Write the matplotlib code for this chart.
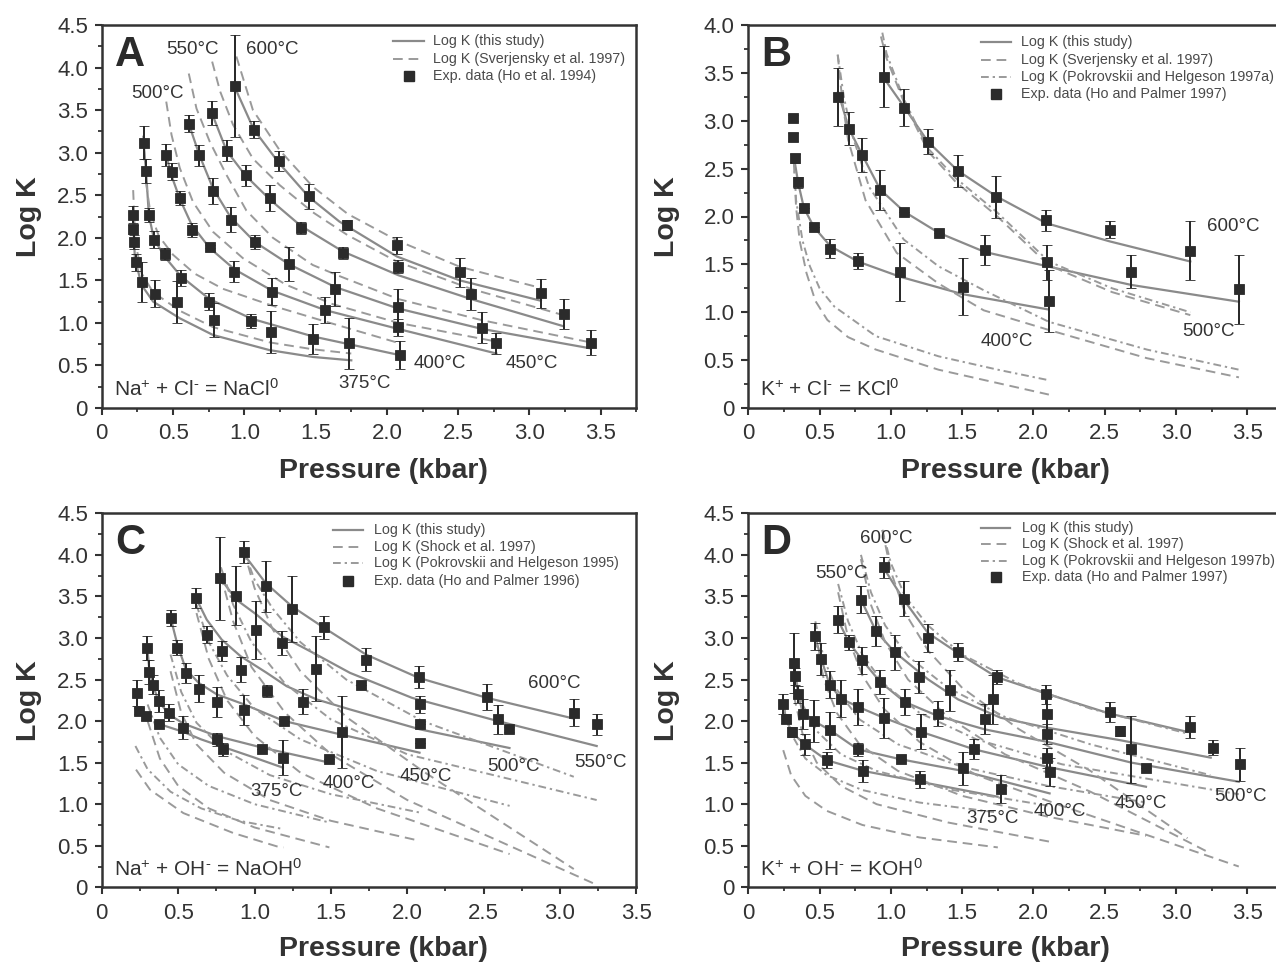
import numpy as np
import matplotlib
matplotlib.use("Agg")
import matplotlib.pyplot as plt
from matplotlib.lines import Line2D
from matplotlib.ticker import MultipleLocator, FuncFormatter

plt.rcParams['font.family'] = ['Liberation Sans', 'DejaVu Sans']
plt.rcParams['mathtext.fontset'] = 'custom'
plt.rcParams['mathtext.rm'] = 'Liberation Sans'
plt.rcParams['mathtext.it'] = 'Liberation Sans:italic'

# ---------------- Panel A: Na+ + Cl- = NaCl0 ----------------
A_TEMPS = [375, 400, 450, 500, 550, 600]
A_FIT_P = [[0.218, 0.232, 0.279, 0.36, 0.547, 0.78, 1.177, 1.48, 1.75],
           [0.293, 0.31, 0.33, 0.365, 0.44, 0.554, 0.755, 1.049, 1.483, 2.094],
           [0.452, 0.491, 0.549, 0.631, 0.757, 0.93, 1.193, 1.567, 2.077, 2.768],
           [0.61, 0.685, 0.78, 0.904, 1.074, 1.312, 1.639, 2.077, 2.665, 3.43],
           [0.773, 0.876, 1.009, 1.179, 1.396, 1.69, 2.08, 2.59, 3.24],
           [0.93, 1.067, 1.242, 1.452, 1.667, 2.07, 2.51, 3.08]]
A_FIT_K = [[2.27, 1.76, 1.445, 1.25, 1.054, 0.858, 0.68, 0.60, 0.56],
           [3.12, 2.79, 2.27, 1.99, 1.78, 1.55, 1.28, 1.05, 0.84, 0.62],
           [2.97, 2.72, 2.45, 2.15, 1.88, 1.63, 1.38, 1.15, 0.93, 0.64],
           [3.34, 2.97, 2.58, 2.24, 1.95, 1.69, 1.42, 1.17, 0.93, 0.70],
           [3.46, 3.02, 2.73, 2.45, 2.14, 1.84, 1.56, 1.28, 0.96],
           [3.78, 3.27, 2.88, 2.48, 2.19, 1.78, 1.50, 1.26]]
A_SV_P = [[0.22, 0.235, 0.28, 0.36, 0.55, 0.78, 1.18, 1.48, 1.75],
          [0.29, 0.31, 0.34, 0.40, 0.50, 0.65, 0.85, 1.2, 1.6, 2.09],
          [0.452, 0.489, 0.547, 0.64, 0.78, 0.99, 1.29, 1.62, 2.08, 2.77],
          [0.61, 0.664, 0.757, 0.874, 1.014, 1.2, 1.48, 1.667, 2.08, 2.67, 3.43],
          [0.774, 0.83, 0.92, 1.06, 1.247, 1.48, 1.725, 2.07, 2.59, 3.24],
          [0.944, 1.06, 1.247, 1.48, 1.725, 2.07, 2.51, 3.08]]
A_SV_K = [[2.56, 1.95, 1.58, 1.36, 1.14, 0.95, 0.77, 0.69, 0.64],
          [3.2, 2.65, 2.3, 2.02, 1.80, 1.58, 1.40, 1.20, 1.00, 0.76],
          [3.60, 3.21, 2.82, 2.42, 2.07, 1.76, 1.45, 1.22, 1.00, 0.78],
          [3.93, 3.52, 3.13, 2.74, 2.32, 2.0, 1.68, 1.55, 1.28, 1.03, 0.77],
          [4.07, 3.72, 3.33, 2.93, 2.62, 2.30, 2.03, 1.72, 1.40, 1.09],
          [4.13, 3.50, 3.03, 2.60, 2.28, 1.97, 1.66, 1.41]]
A_EXP_P = [0.932, 0.773, 0.610, 1.067, 0.876, 0.293, 0.452, 0.685, 1.242, 0.309,
           0.491, 1.009, 0.780, 1.179, 1.452, 0.549, 0.218, 0.330, 0.218, 0.904,
           0.631, 0.365, 0.223, 1.074, 1.396, 1.718, 0.757, 0.440, 0.242, 1.690,
           1.312, 0.930, 0.554, 0.284, 1.639, 1.193, 0.375, 0.526, 0.755, 1.567,
           0.788, 1.049, 1.184, 1.483, 1.737, 2.071, 2.080, 2.077, 2.077, 2.094,
           2.514, 2.588, 2.665, 2.768, 3.078, 3.241, 3.430]
A_EXP_K = [3.784, 3.463, 3.337, 3.267, 3.024, 3.118, 2.969, 2.969, 2.902, 2.789,
           2.777, 2.734, 2.550, 2.468, 2.487, 2.468, 2.268, 2.268, 2.099, 2.213,
           2.095, 1.978, 1.951, 1.951, 2.119, 2.150, 1.896, 1.814, 1.712, 1.825,
           1.688, 1.602, 1.528, 1.481, 1.394, 1.367, 1.343, 1.246, 1.246, 1.152,
           1.038, 1.022, 0.893, 0.811, 0.760, 1.915, 1.661, 1.183, 0.948, 0.623,
           1.594, 1.343, 0.944, 0.760, 1.348, 1.105, 0.768]
A_EXP_ERR = [0.60, 0.14, 0.10, 0.10, 0.12, 0.19, 0.13, 0.12, 0.12, 0.14,
             0.10, 0.12, 0.15, 0.15, 0.15, 0.08, 0.10, 0.08, 0.05, 0.15,
             0.08, 0.10, 0.08, 0.08, 0.07, 0.06, 0.02, 0.07, 0.10, 0.07,
             0.20, 0.12, 0.09, 0.23, 0.20, 0.16, 0.16, 0.25, 0.10, 0.15,
             0.20, 0.08, 0.25, 0.18, 0.30, 0.10, 0.08, 0.22, 0.10, 0.16,
             0.17, 0.19, 0.18, 0.12, 0.17, 0.18, 0.15]

# ---------------- Panel B: K+ + Cl- = KCl0 ----------------
B_TEMPS = [400, 500, 600]
B_FIT_P = [[0.32, 0.35, 0.39, 0.46, 0.576, 0.768, 1.066, 1.5, 2.1],
           [0.63, 0.705, 0.80, 0.926, 1.094, 1.335, 1.658, 2.108, 2.687, 3.441],
           [0.944, 1.09, 1.261, 1.468, 1.74, 2.09, 2.535, 3.10]]
B_FIT_K = [[2.62, 2.35, 2.09, 1.89, 1.69, 1.53, 1.37, 1.19, 1.03],
           [3.3, 2.92, 2.64, 2.28, 2.05, 1.83, 1.63, 1.476, 1.285, 1.11],
           [3.46, 3.15, 2.78, 2.48, 2.21, 1.93, 1.74, 1.53]]
B_SV_P = [[0.32, 0.335, 0.36, 0.408, 0.47, 0.554, 0.70, 0.895, 1.334, 1.75, 2.108],
          [0.627, 0.66, 0.70, 0.822, 1.041, 1.334, 1.651, 2.108, 2.796, 3.441],
          [0.93, 0.97, 1.09, 1.261, 1.455, 1.74, 2.108, 2.552, 3.10]]
B_SV_K = [[2.55, 2.10, 1.75, 1.41, 1.12, 0.92, 0.74, 0.61, 0.40, 0.26, 0.14],
          [3.69, 3.2, 2.80, 2.17, 1.62, 1.30, 1.02, 0.815, 0.52, 0.32],
          [3.88, 3.65, 3.20, 2.68, 2.36, 2.01, 1.49, 1.21, 0.97]]
B_PH_P = [[0.32, 0.335, 0.38, 0.432, 0.50, 0.603, 0.895, 1.334, 1.75, 2.108],
          [0.627, 0.67, 0.725, 0.847, 1.09, 1.334, 1.651, 2.108, 2.796, 3.441],
          [0.94, 0.97, 1.09, 1.261, 1.455, 1.74, 2.108, 2.552, 3.10]]
B_PH_K = [[2.6, 2.17, 1.75, 1.48, 1.25, 1.06, 0.75, 0.54, 0.40, 0.29],
          [3.69, 3.25, 2.87, 2.31, 1.76, 1.48, 1.23, 0.90, 0.61, 0.40],
          [3.92, 3.70, 3.23, 2.71, 2.40, 2.05, 1.53, 1.25, 1.00]]
B_EXP_P = [0.315, 0.315, 0.329, 0.350, 0.388, 0.460, 0.576, 0.768, 1.066, 1.505,
           0.628, 0.705, 0.800, 0.926, 1.094, 1.335, 1.659, 0.950, 1.090, 1.262,
           1.470, 1.740, 2.090, 2.097, 2.108, 2.535, 2.687, 3.100, 3.441]
B_EXP_K = [3.025, 2.827, 2.607, 2.357, 2.092, 1.887, 1.664, 1.535, 1.420, 1.267,
           3.248, 2.917, 2.642, 2.277, 2.044, 1.824, 1.650, 3.460, 3.137, 2.780,
           2.475, 2.207, 1.963, 1.520, 1.117, 1.862, 1.424, 1.643, 1.240]
B_EXP_ERR = [0.03, 0.04, 0.05, 0.06, 0.0, 0.0, 0.10, 0.08, 0.30, 0.30,
             0.30, 0.17, 0.18, 0.21, 0.0, 0.0, 0.16, 0.32, 0.19, 0.13,
             0.17, 0.22, 0.11, 0.18, 0.32, 0.09, 0.17, 0.31, 0.36]

# ---------------- Panel C: Na+ + OH- = NaOH0 ----------------
C_TEMPS = [375, 400, 450, 500, 550, 600]
C_FIT_P = [[0.367, 0.45, 0.534, 0.65, 0.792, 1.0, 1.185],
           [0.298, 0.311, 0.333, 0.372, 0.44, 0.534, 0.752, 1.051, 1.49],
           [0.451, 0.495, 0.551, 0.634, 0.754, 0.933, 1.195, 1.516, 2.08],
           [0.617, 0.687, 0.785, 0.909, 1.08, 1.21, 1.407, 1.625, 2.084, 2.669],
           [0.775, 0.881, 1.014, 1.18, 1.385, 1.625, 2.03, 2.593, 3.24],
           [0.933, 1.073, 1.245, 1.457, 1.73, 2.075, 2.52, 3.09]]
C_FIT_K = [[1.97, 1.92, 1.87, 1.78, 1.69, 1.56, 1.44],
           [2.88, 2.62, 2.44, 2.24, 2.08, 1.97, 1.82, 1.68, 1.50],
           [3.24, 2.92, 2.62, 2.46, 2.32, 2.20, 2.00, 1.86, 1.62],
           [3.48, 3.22, 2.98, 2.78, 2.58, 2.42, 2.26, 2.14, 1.90, 1.676],
           [3.72, 3.46, 3.28, 3.02, 2.82, 2.58, 2.28, 2.0, 1.70],
           [4.0, 3.66, 3.38, 3.12, 2.80, 2.52, 2.28, 2.03]]
C_SH_P = [[0.224, 0.316, 0.534, 0.861, 1.145, 1.19],
          [0.3, 0.38, 0.5, 0.7, 1.0, 1.49],
          [0.45, 0.52, 0.62, 0.8, 1.1, 1.5, 2.08],
          [0.62, 0.7, 0.82, 1.0, 1.3, 1.8, 2.67],
          [0.78, 0.86, 0.98, 1.2, 1.5, 2.0, 3.24],
          [0.93, 1.0, 1.12, 1.3, 1.6, 2.1, 3.09]]
C_SH_K = [[1.416, 1.174, 0.893, 0.653, 0.493, 0.48],
          [2.0, 1.55, 1.22, 0.95, 0.72, 0.48],
          [2.6, 2.1, 1.72, 1.38, 1.05, 0.80, 0.56],
          [3.3, 2.75, 2.25, 1.82, 1.38, 0.95, 0.40],
          [3.75, 3.2, 2.65, 2.1, 1.6, 1.05, 0.03],
          [4.05, 3.6, 3.1, 2.6, 2.05, 1.4, 0.22]]
C_PH_P = [[0.22, 0.3, 0.45, 0.65, 0.9, 1.19],
          [0.3, 0.38, 0.5, 0.7, 1.0, 1.49],
          [0.45, 0.52, 0.62, 0.8, 1.1, 1.5, 2.08],
          [0.62, 0.7, 0.82, 1.0, 1.3, 1.8, 2.67],
          [0.78, 0.86, 0.98, 1.2, 1.5, 2.0, 3.24],
          [0.93, 1.0, 1.12, 1.3, 1.6, 2.1, 3.09]]
C_PH_K = [[1.7, 1.42, 1.15, 0.95, 0.80, 0.70],
          [2.2, 1.80, 1.48, 1.22, 1.0, 0.78],
          [2.8, 2.35, 1.98, 1.65, 1.35, 1.12, 0.90],
          [3.4, 2.95, 2.55, 2.15, 1.78, 1.40, 0.98],
          [3.85, 3.4, 2.95, 2.45, 2.02, 1.60, 1.05],
          [4.05, 3.7, 3.35, 2.95, 2.5, 2.0, 1.33]]
C_EXP_P = [0.933, 0.775, 0.617, 0.881, 1.073, 1.245, 0.451, 0.687, 1.012, 1.180,
           1.457, 0.298, 0.495, 0.785, 0.311, 0.551, 0.909, 1.405, 0.333, 0.634,
           1.080, 0.233, 0.372, 0.754, 1.315, 0.244, 0.287, 0.440, 0.933, 0.372,
           0.534, 1.195, 1.571, 0.752, 0.792, 1.051, 1.185, 1.486, 1.730, 1.698,
           2.075, 2.084, 2.084, 2.084, 2.520, 2.593, 2.669, 3.090, 3.240]
C_EXP_K = [4.035, 3.720, 3.480, 3.510, 3.620, 3.350, 3.240, 3.040, 3.100, 2.940,
           3.130, 2.880, 2.880, 2.840, 2.590, 2.580, 2.620, 2.630, 2.440, 2.390,
           2.360, 2.340, 2.240, 2.230, 2.230, 2.120, 2.060, 2.100, 2.130, 1.970,
           1.920, 2.000, 1.870, 1.780, 1.660, 1.670, 1.560, 1.540, 2.740, 2.430,
           2.530, 2.200, 1.960, 1.740, 2.290, 2.020, 1.900, 2.100, 1.960]
C_EXP_ERR = [0.13, 0.50, 0.12, 0.35, 0.31, 0.40, 0.10, 0.10, 0.35, 0.14,
             0.14, 0.14, 0.09, 0.12, 0.14, 0.12, 0.15, 0.39, 0.12, 0.16,
             0.07, 0.16, 0.13, 0.18, 0.15, 0.04, 0.05, 0.10, 0.18, 0.0,
             0.14, 0.0, 0.43, 0.08, 0.08, 0.0, 0.21, 0.0, 0.14, 0.0,
             0.13, 0.10, 0.0, 0.0, 0.16, 0.17, 0.03, 0.16, 0.13]

# ---------------- Panel D: K+ + OH- = KOH0 ----------------
D_TEMPS = [375, 400, 450, 500, 550, 600]
D_FIT_P = [[0.245, 0.264, 0.303, 0.395, 0.549, 0.807, 1.204, 1.748],
           [0.32, 0.331, 0.35, 0.383, 0.46, 0.574, 0.768, 1.069, 1.505, 2.113],
           [0.469, 0.511, 0.57, 0.651, 0.772, 0.95, 1.213, 1.584, 2.097, 2.789],
           [0.628, 0.705, 0.80, 0.926, 1.097, 1.332, 1.659, 2.097, 2.687, 3.44],
           [0.791, 0.896, 1.027, 1.262, 1.472, 1.77, 2.097, 2.608, 3.243],
           [0.95, 1.09, 1.26, 1.47, 1.74, 2.09, 2.535, 3.08]]
D_FIT_K = [[2.21, 2.03, 1.87, 1.72, 1.53, 1.40, 1.27, 1.09],
           [2.70, 2.54, 2.32, 2.09, 2.0, 1.89, 1.66, 1.54, 1.40, 1.13],
           [3.02, 2.75, 2.44, 2.27, 2.17, 2.04, 1.87, 1.66, 1.45, 1.21],
           [3.22, 2.95, 2.73, 2.47, 2.23, 2.06, 1.90, 1.75, 1.50, 1.27],
           [3.46, 3.08, 2.83, 2.50, 2.26, 2.04, 1.92, 1.77, 1.56],
           [3.84, 3.46, 3.06, 2.82, 2.53, 2.33, 2.09, 1.87]]
D_SH_P = [[0.245, 0.3, 0.4, 0.55, 0.8, 1.2, 1.75],
          [0.32, 0.38, 0.48, 0.65, 0.9, 1.4, 2.11],
          [0.47, 0.53, 0.62, 0.78, 1.05, 1.5, 2.1, 2.79],
          [0.63, 0.7, 0.8, 0.95, 1.2, 1.6, 2.2, 3.44],
          [0.79, 0.86, 0.96, 1.12, 1.4, 1.8, 2.4, 3.24],
          [0.94, 1.0, 1.1, 1.26, 1.5, 1.9, 2.4, 3.08]]
D_SH_K = [[1.65, 1.35, 1.10, 0.92, 0.75, 0.60, 0.48],
          [2.3, 1.85, 1.50, 1.22, 1.00, 0.78, 0.55],
          [3.0, 2.5, 2.10, 1.72, 1.40, 1.10, 0.85, 0.62],
          [3.55, 3.0, 2.55, 2.15, 1.75, 1.35, 0.98, 0.25],
          [3.95, 3.4, 2.95, 2.5, 2.05, 1.6, 1.15, 0.41],
          [4.3, 3.8, 3.3, 2.85, 2.4, 1.9, 1.4, 0.59]]
D_PH_P = [[0.245, 0.3, 0.4, 0.55, 0.8, 1.2, 1.75],
          [0.32, 0.38, 0.48, 0.65, 0.9, 1.4, 2.11],
          [0.47, 0.53, 0.62, 0.78, 1.05, 1.5, 2.1, 2.79],
          [0.63, 0.7, 0.8, 0.95, 1.2, 1.6, 2.2, 3.44],
          [0.79, 0.86, 0.96, 1.12, 1.4, 1.8, 2.4, 3.24],
          [0.94, 1.0, 1.1, 1.26, 1.5, 1.9, 2.4, 3.08]]
D_PH_K = [[2.2, 1.85, 1.55, 1.35, 1.17, 1.02, 0.90],
          [2.6, 2.2, 1.88, 1.60, 1.40, 1.18, 0.98],
          [3.2, 2.75, 2.38, 2.02, 1.72, 1.45, 1.22, 1.02],
          [3.65, 3.2, 2.8, 2.45, 2.1, 1.78, 1.48, 1.12],
          [4.0, 3.55, 3.15, 2.78, 2.4, 2.05, 1.72, 1.35],
          [4.3, 3.9, 3.5, 3.15, 2.8, 2.45, 2.15, 1.85]]
D_EXP_P = [0.950, 0.791, 1.090, 0.628, 0.896, 0.469, 1.262, 0.705, 1.027, 1.472,
           0.511, 0.800, 0.320, 1.199, 0.926, 0.570, 0.331, 1.418, 0.651, 0.350,
           1.097, 0.772, 0.245, 0.383, 1.332, 0.950, 1.659, 0.264, 0.460, 0.303,
           0.574, 1.213, 0.395, 1.584, 0.768, 1.069, 0.549, 1.505, 0.807, 1.204,
           1.773, 1.741, 1.716, 2.090, 2.097, 2.097, 2.097, 2.113, 2.535, 2.608,
           2.687, 2.789, 3.100, 3.259, 3.447]
D_EXP_K = [3.85, 3.46, 3.47, 3.22, 3.08, 3.02, 3.00, 2.95, 2.83, 2.83,
           2.75, 2.73, 2.70, 2.53, 2.47, 2.44, 2.54, 2.37, 2.27, 2.32,
           2.23, 2.17, 2.21, 2.09, 2.09, 2.04, 2.03, 2.03, 2.00, 1.87,
           1.89, 1.87, 1.72, 1.66, 1.66, 1.54, 1.53, 1.43, 1.40, 1.30,
           1.18, 2.53, 2.26, 2.32, 2.09, 1.85, 1.56, 1.39, 2.11, 1.88,
           1.66, 1.44, 1.93, 1.68, 1.48]
D_EXP_ERR = [0.13, 0.16, 0.21, 0.16, 0.18, 0.16, 0.17, 0.09, 0.21, 0.11,
             0.19, 0.16, 0.36, 0.19, 0.15, 0.16, 0.10, 0.25, 0.22, 0.10,
             0.16, 0.22, 0.12, 0.18, 0.15, 0.24, 0.18, 0.05, 0.25, 0.06,
             0.22, 0.21, 0.13, 0.12, 0.08, 0.0, 0.10, 0.20, 0.13, 0.10,
             0.17, 0.08, 0.30, 0.12, 0.20, 0.12, 0.12, 0.17, 0.12, 0.06,
             0.40, 0.0, 0.13, 0.09, 0.20]

# ---------------- styling ----------------
W, H = 1276, 964
FRAME = '#333333'
FIT_STYLE = dict(color='#8a8a8a', lw=1.6, ls='-', zorder=2)
SV_STYLE = dict(color='#9a9a9a', lw=1.4, dashes=(5.0, 3.0), zorder=2)
PH_STYLE = dict(color='#9a9a9a', lw=1.4, dashes=(4.0, 2.0, 1.2, 2.0), zorder=2)
SQ = '#2b2b2b'
HY = '\u2010'

fig = plt.figure(figsize=(W / 100, H / 100), dpi=100)


def add_axes_px(left, top, right, bottom):
    return fig.add_axes([left / W, 1 - bottom / H, (right - left) / W, (bottom - top) / H])


def tick_fmt(v, _):
    return '0' if abs(v) < 1e-9 else f'{v:.1f}'


def style_axes(ax, xmax, ymax, ylab_x, xlab_x, xlab_y):
    ax.set_xlim(0, xmax)
    ax.set_ylim(0, ymax)
    ax.xaxis.set_major_locator(MultipleLocator(0.5))
    ax.xaxis.set_minor_locator(MultipleLocator(0.25))
    ax.yaxis.set_major_locator(MultipleLocator(0.5))
    ax.yaxis.set_minor_locator(MultipleLocator(0.25))
    ax.xaxis.set_major_formatter(FuncFormatter(tick_fmt))
    ax.yaxis.set_major_formatter(FuncFormatter(tick_fmt))
    for sp in ax.spines.values():
        sp.set_linewidth(1.8)
        sp.set_color(FRAME)
    ax.tick_params(which='major', direction='out', length=5, width=1.5, color=FRAME,
                   labelsize=16, labelcolor='#333333', pad=5)
    ax.tick_params(which='minor', direction='out', length=2.6, width=1.3, color=FRAME)
    ax.tick_params(axis='x', which='major', pad=6)
    ax.set_ylabel('Log K', fontsize=20.5, fontweight='bold', color='#333333')
    ax.set_xlabel('Pressure (kbar)', fontsize=20.5, fontweight='bold', color='#333333')
    ax.yaxis.set_label_coords(ylab_x, 0.5)
    ax.xaxis.set_label_coords(xlab_x, xlab_y)


def draw_curves(ax, plist, klist, style):
    for p, k in zip(plist, klist):
        ax.plot(p, k, **style)


def draw_exp(ax, p, k, err):
    ax.errorbar(p, k, yerr=err, fmt='s', ms=7.8, mfc=SQ, mec=SQ, mew=0.6,
                ecolor='#262626', elinewidth=1.4, capsize=3.3, capthick=1.4, zorder=5)


def legend_px(x0, x1, xt, rows, entries):
    for y, (kind, label) in zip(rows, entries):
        yf = 1 - y / H
        if kind == 'fit':
            fig.add_artist(Line2D([x0 / W, x1 / W], [yf, yf], transform=fig.transFigure, **FIT_STYLE))
        elif kind == 'sv':
            fig.add_artist(Line2D([x0 / W, x1 / W], [yf, yf], transform=fig.transFigure, **SV_STYLE))
        elif kind == 'ph':
            fig.add_artist(Line2D([x0 / W, x1 / W], [yf, yf], transform=fig.transFigure, **PH_STYLE))
        else:
            xc = (x0 + x1) / 2
            fig.add_artist(Line2D([xc / W], [yf], transform=fig.transFigure, marker='s',
                                  ms=7.8, color=SQ, ls='none'))
        fig.text(xt / W, yf, label, fontsize=10.3, color='#4a4a4a', va='center', ha='left')


def temp_labels(ax, items):
    for x, y, t in items:
        ax.text(x, y, f'{t}°C', fontsize=13.5, color='#333333', ha='center', va='center', zorder=6)


def reaction(ax, cation, anion, product):
    txt = (cation + r'$^{\mathregular{+}}$ + ' + anion + r'$^{\mathregular{' + HY + r'}}$ = '
           + product + r'$^{\mathregular{0}}$')
    ax.text(0.022, 0.05, txt, transform=ax.transAxes, fontsize=15, color='#333333',
            ha='left', va='center')


def panel_letter(ax, letter):
    ax.text(0.025, 0.975, letter, transform=ax.transAxes, fontsize=30, fontweight='bold',
            color='#2b2b2b', ha='left', va='top')


axA = add_axes_px(101.8, 25, 636.4, 408)
axB = add_axes_px(748.3, 25, 1283.0, 408)
axC = add_axes_px(101.8, 513.3, 636.4, 887.3)
axD = add_axes_px(748.3, 513.3, 1283.0, 887.3)

# Panel A
style_axes(axA, 3.75, 4.5, -0.112, 0.526, -0.13)
draw_curves(axA, A_FIT_P, A_FIT_K, FIT_STYLE)
draw_curves(axA, A_SV_P, A_SV_K, SV_STYLE)
draw_exp(axA, A_EXP_P, A_EXP_K, A_EXP_ERR)
temp_labels(axA, [(0.635, 4.207, 550), (1.198, 4.207, 600), (0.39, 3.698, 500),
                  (2.374, 0.525, 400), (3.014, 0.525, 450), (1.842, 0.29, 375)])
panel_letter(axA, 'A')
reaction(axA, 'Na', 'Cl', 'NaCl')
legend_px(393, 424, 433, [41, 58.5, 76],
          [('fit', 'Log K (this study)'), ('sv', 'Log K (Sverjensky et al. 1997)'),
           ('exp', 'Exp. data (Ho et al. 1994)')])

# Panel B
style_axes(axB, 3.75, 4.0, -0.128, 0.48, -0.13)
draw_curves(axB, B_FIT_P, B_FIT_K, FIT_STYLE)
draw_curves(axB, B_SV_P, B_SV_K, SV_STYLE)
draw_curves(axB, B_PH_P, B_PH_K, PH_STYLE)
draw_exp(axB, B_EXP_P, B_EXP_K, B_EXP_ERR)
temp_labels(axB, [(3.399, 1.893, 600), (3.224, 0.797, 500), (1.81, 0.692, 400)])
panel_letter(axB, 'B')
reaction(axB, 'K', 'Cl', 'KCl')
legend_px(981, 1011, 1021, [42.3, 60, 76.7, 94],
          [('fit', 'Log K (this study)'), ('sv', 'Log K (Sverjensky et al. 1997)'),
           ('ph', 'Log K (Pokrovskii and Helgeson 1997a)'),
           ('exp', 'Exp. data (Ho and Palmer 1997)')])

# Panel C
style_axes(axC, 3.5, 4.5, -0.112, 0.526, -0.13)
draw_curves(axC, C_FIT_P, C_FIT_K, FIT_STYLE)
draw_curves(axC, C_SH_P, C_SH_K, SV_STYLE)
draw_curves(axC, C_PH_P, C_PH_K, PH_STYLE)
draw_exp(axC, C_EXP_P, C_EXP_K, C_EXP_ERR)
temp_labels(axC, [(2.965, 2.458, 600), (3.263, 1.499, 550), (2.693, 1.456, 500),
                  (2.123, 1.336, 450), (1.619, 1.251, 400), (1.145, 1.155, 375)])
panel_letter(axC, 'C')
reaction(axC, 'Na', 'OH', 'NaOH')
legend_px(333, 363, 374, [530, 546.7, 563.3, 580.5],
          [('fit', 'Log K (this study)'), ('sv', 'Log K (Shock et al. 1997)'),
           ('ph', 'Log K (Pokrovskii and Helgeson 1995)'),
           ('exp', 'Exp. data (Ho and Palmer 1996)')])

# Panel D
style_axes(axD, 3.75, 4.5, -0.128, 0.48, -0.13)
draw_curves(axD, D_FIT_P, D_FIT_K, FIT_STYLE)
draw_curves(axD, D_SH_P, D_SH_K, SV_STYLE)
draw_curves(axD, D_PH_P, D_PH_K, PH_STYLE)
draw_exp(axD, D_EXP_P, D_EXP_K, D_EXP_ERR)
temp_labels(axD, [(0.964, 4.191, 600), (0.656, 3.77, 550), (1.712, 0.83, 375),
                  (2.185, 0.91, 400), (2.751, 1.01, 450), (3.451, 1.09, 500)])
panel_letter(axD, 'D')
reaction(axD, 'K', 'OH', 'KOH')
legend_px(981, 1010, 1022, [527.7, 544, 561, 577.3],
          [('fit', 'Log K (this study)'), ('sv', 'Log K (Shock et al. 1997)'),
           ('ph', 'Log K (Pokrovskii and Helgeson 1997b)'),
           ('exp', 'Exp. data (Ho and Palmer 1997)')])

fig.savefig('out.png', dpi=100)
